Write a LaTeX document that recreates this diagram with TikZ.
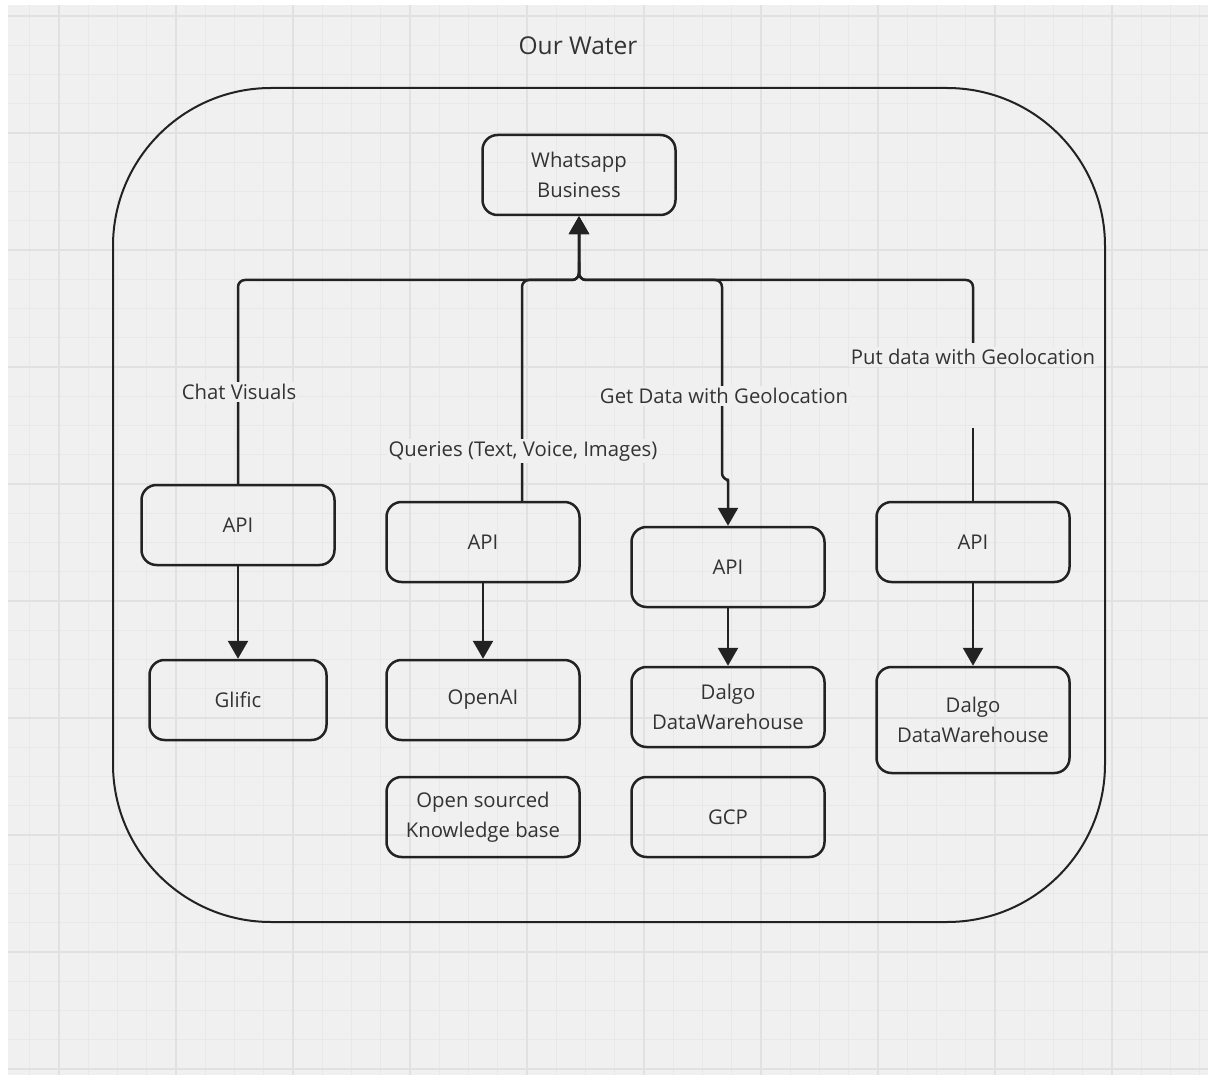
\documentclass[tikz,border=0pt]{standalone}
\usepackage{fontspec}
\setmainfont{Open Sans}
\usepackage{tikz}
\usetikzlibrary{arrows.meta}
\definecolor{bg}{HTML}{F0F0F0}
\definecolor{gridminor}{HTML}{E8E8E8}
\definecolor{gridmajor}{HTML}{E1E1E1}
\definecolor{ink}{HTML}{222222}
\definecolor{txt}{HTML}{333333}

\begin{document}
\begin{tikzpicture}[x=1pt, y=-1pt, font=\fontsize{20.3}{29.5}\selectfont, text=txt,
    box/.style = {draw=ink, line width=2.5pt, rounded corners=15pt, minimum width=193pt, minimum height=80pt, align=center},
    wire/.style = {draw=ink, line width=2.5pt, rounded corners=7pt},
    tip/.style = {-{Triangle[width=20pt, length=18pt]}},
    lbl/.style = {fill=bg, inner sep=2pt}]
    \useasboundingbox (0,0) rectangle (1208,1075);
    \fill[bg] (8,5) rectangle (1208,1075);
    \foreach \i in {-1,...,39} \draw[gridminor, line width=1pt] ({59+\i*29.25},5) -- ({59+\i*29.25},1075);
    \foreach \j in {-4,...,32} \draw[gridminor, line width=1pt] (8,{133+\j*29.25}) -- (1208,{133+\j*29.25});
    \foreach \i in {0,...,9} \draw[gridmajor, line width=1.5pt] ({59+\i*117},5) -- ({59+\i*117},1075);
    \foreach \j in {-1,...,8} \draw[gridmajor, line width=1.5pt] (8,{133+\j*117}) -- (1208,{133+\j*117});

    \node[font=\fontsize{24.5}{30}\selectfont] (title) at (578,46) {Our Water};
    \draw[ink, line width=2pt, rounded corners=158pt] (113,88) rectangle (1105,922);

    \node[box] (whatsapp) at (579,175) {Whatsapp\\Business};
    \node[box] (api1) at (238,525) {API};
    \node[box, minimum width=177pt] (glific) at (238,700) {Glific};
    \node[box] (api2) at (483,542) {API};
    \node[box] (openai) at (483,700) {OpenAI};
    \node[box] (kb) at (483,817) {Open sourced\\Knowledge base};
    \node[box] (api3) at (728,567) {API};
    \node[box] (dalgo1) at (728,707) {Dalgo\\DataWarehouse};
    \node[box] (gcp) at (728,817) {GCP};
    \node[box] (api4) at (973,542) {API};
    \node[box, minimum height=106pt] (dalgo2) at (973,720) {Dalgo\\DataWarehouse};

    \coordinate (hub) at (579,280);
    \coordinate (split) at (579,262);
    \coordinate (gapa) at (973,343);
    \coordinate (gapb) at (973,428);

    \draw[wire, tip] (api1.north) |- (hub) -- (whatsapp.south);
    \draw[wire, tip] ([xshift=39pt]api2.north) |- (hub) -- (whatsapp.south);
    \draw[wire, tip] (split) -- (hub) -| (722,480) [rounded corners=1pt] -| (api3.north);
    \draw[wire, tip] (gapa) |- (hub) -- (whatsapp.south);
    \draw[wire] (api4.north) -- (gapb);

    \draw[wire, tip] (api1) -- (glific);
    \draw[wire, tip] (api2) -- (openai);
    \draw[wire, tip] (api3) -- (dalgo1);
    \draw[wire, tip] (api4) -- (dalgo2);

    \node[lbl] (chatlbl) at (239,392) {Chat Visuals};
    \node[lbl] (querylbl) at (523,451) {Queries (Text, Voice, Images)};
    \node[lbl] (getlbl) at (724,396) {Get Data with Geolocation};
    \node[lbl] (putlbl) at (973,357) {Put data with Geolocation};
\end{tikzpicture}
\end{document}
